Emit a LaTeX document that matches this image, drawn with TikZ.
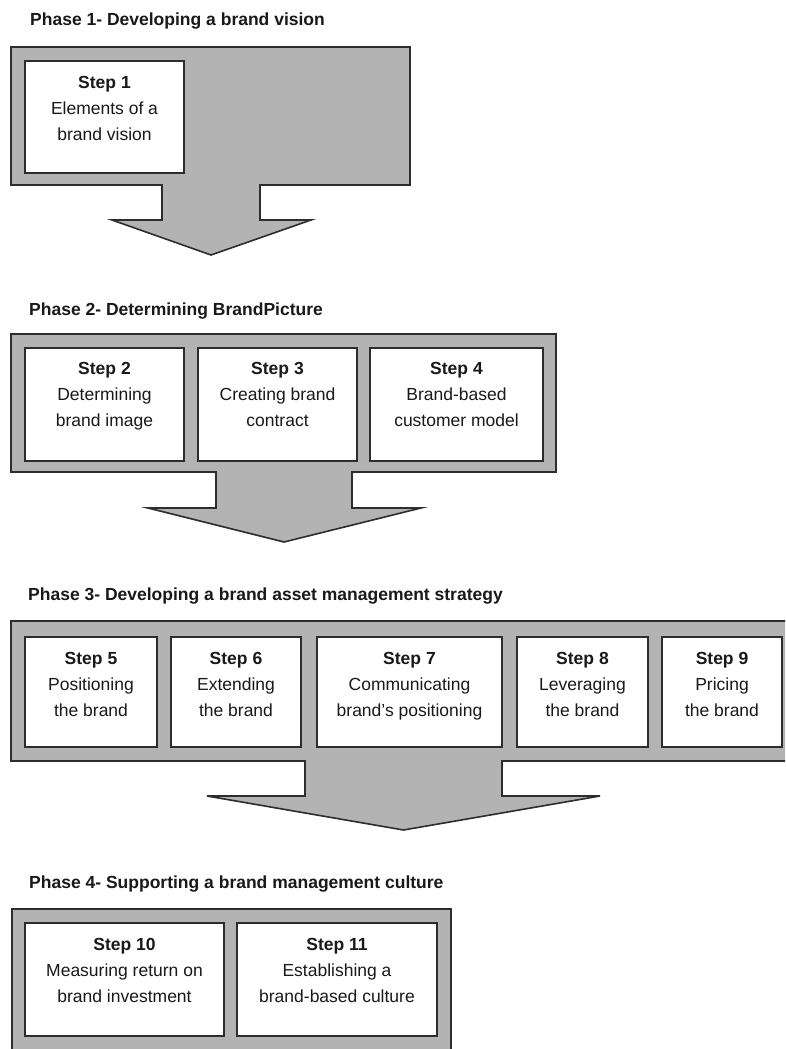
\documentclass[tikz,border=0pt]{standalone}
\usepackage{fontspec}
\setmainfont{Liberation Sans}
\definecolor{panelgray}{RGB}{179,179,179}
\definecolor{edgegray}{RGB}{45,45,45}
\definecolor{inkcol}{RGB}{25,25,25}
\begin{document}
\begin{tikzpicture}[x=1pt,y=-1pt,
  panel/.style={fill=panelgray,draw=edgegray,line width=1.6pt,line join=miter},
  stepbox/.style={draw=edgegray,fill=white,line width=1.6pt,inner sep=0pt,outer sep=0pt},
  steptext/.style={align=center,inner sep=0pt,anchor=north,text=inkcol,font=\fontsize{17.5}{26}\selectfont},
  phasetitle/.style={anchor=base west,inner sep=0pt,text=inkcol,font=\fontsize{17.5}{21}\selectfont\bfseries}]
\useasboundingbox (0,0) rectangle (785,1049);
\clip (0,0) rectangle (785,1049);
\fill[white] (0,0) rectangle (785,1049);

% Phase 1
\node[phasetitle] (t1) at (30,26) {Phase 1- Developing a brand vision};
\draw[panel] (11,47) -| (410,185) -- (260,185) -- (260,220) -- (311,220) -- (211,255)
  -- (112,220) -- (162,220) -- (162,185) -- (11,185) -- cycle;
\node[stepbox,minimum width=159pt,minimum height=112pt] (s1) at (104.5,117) {};
\node[steptext] (s1t) at ([yshift=-15pt]s1.north) {\textbf{Step 1}\\Elements of a\\brand vision};

% Phase 2
\node[phasetitle] (t2) at (29,315) {Phase 2- Determining BrandPicture};
\draw[panel] (11,334) -| (556,472) -- (352,472) -- (352,508) -- (421,508) -- (284,542)
  -- (148,508) -- (216,508) -- (216,472) -- (11,472) -- cycle;
\node[stepbox,minimum width=159pt,minimum height=113pt] (s2) at (104.5,404.5) {};
\node[stepbox,minimum width=159pt,minimum height=113pt] (s3) at (277.5,404.5) {};
\node[stepbox,minimum width=173pt,minimum height=113pt] (s4) at (456.5,404.5) {};
\node[steptext] (s2t) at ([yshift=-14pt]s2.north) {\textbf{Step 2}\\Determining\\brand image};
\node[steptext] (s3t) at ([yshift=-14pt]s3.north) {\textbf{Step 3}\\Creating brand\\contract};
\node[steptext] (s4t) at ([yshift=-14pt]s4.north) {\textbf{Step 4}\\Brand-based\\customer model};

% Phase 3
\node[phasetitle] (t3) at (28,600) {Phase 3- Developing a brand asset management strategy};
\draw[panel] (11,621) -| (795,761) -- (502,761) -- (502,796) -- (600,796) -- (403.5,830)
  -- (207,796) -- (305,796) -- (305,761) -- (11,761) -- cycle;
\node[stepbox,minimum width=132pt,minimum height=110pt] (s5) at (91,692) {};
\node[stepbox,minimum width=130pt,minimum height=110pt] (s6) at (236,692) {};
\node[stepbox,minimum width=185pt,minimum height=110pt] (s7) at (409.5,692) {};
\node[stepbox,minimum width=131pt,minimum height=110pt] (s8) at (582.5,692) {};
\node[stepbox,minimum width=120pt,minimum height=110pt] (s9) at (722,692) {};
\node[steptext] (s5t) at ([yshift=-15pt]s5.north) {\textbf{Step 5}\\Positioning\\the brand};
\node[steptext] (s6t) at ([yshift=-15pt]s6.north) {\textbf{Step 6}\\Extending\\the brand};
\node[steptext] (s7t) at ([yshift=-15pt]s7.north) {\textbf{Step 7}\\Communicating\\brand's positioning};
\node[steptext] (s8t) at ([yshift=-15pt]s8.north) {\textbf{Step 8}\\Leveraging\\the brand};
\node[steptext] (s9t) at ([yshift=-15pt]s9.north) {\textbf{Step 9}\\Pricing\\the brand};

% Phase 4
\node[phasetitle] (t4) at (29,888) {Phase 4- Supporting a brand management culture};
\draw[panel] (12,909) rectangle (451,1065);
\node[stepbox,minimum width=199pt,minimum height=113pt] (s10) at (124.5,979.5) {};
\node[stepbox,minimum width=200pt,minimum height=113pt] (s11) at (337,979.5) {};
\node[steptext] (s10t) at ([yshift=-15pt]s10.north) {\textbf{Step 10}\\Measuring return on\\brand investment};
\node[steptext] (s11t) at ([yshift=-15pt]s11.north) {\textbf{Step 11}\\Establishing a\\brand-based culture};
\end{tikzpicture}
\end{document}
